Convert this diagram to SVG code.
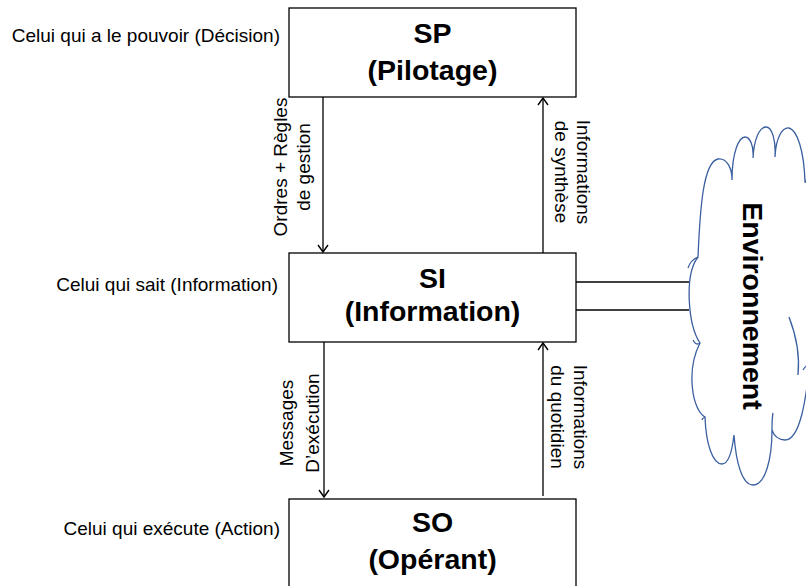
<svg xmlns="http://www.w3.org/2000/svg" width="806" height="586" viewBox="0 0 806 586">
<defs>
<marker id="arr" markerUnits="userSpaceOnUse" markerWidth="14" markerHeight="14" refX="0" refY="0" viewBox="-10 -7 12 14" orient="auto">
<path d="M -7 -5 L 0 0 L -7 5" fill="none" stroke="#000" stroke-width="1.4"/>
</marker>
<style>
.box{fill:#fff;stroke:#000;stroke-width:1.3}
.title{font-family:"Liberation Sans",Arial,sans-serif;font-weight:bold;font-size:28.5px;text-anchor:middle;fill:#000}
.side{font-family:"Liberation Sans",Arial,sans-serif;font-size:19px;text-anchor:end;fill:#000}
.vl{font-family:"Liberation Sans",Arial,sans-serif;font-size:19px;text-anchor:middle;fill:#000}
.ln{stroke:#000;stroke-width:1.3;fill:none}
.cloud{fill:#fff;stroke:#3A5FA0;stroke-width:1.3}
.cl{fill:none;stroke:#3A5FA0;stroke-width:1.3}
</style>
</defs>
<rect width="806" height="586" fill="#fff"/>

<g id="connectors">
<line class="ln" x1="323" y1="97" x2="323" y2="252" marker-end="url(#arr)"/>
<line class="ln" x1="543" y1="253" x2="543" y2="98" marker-end="url(#arr)"/>
<line class="ln" x1="324" y1="342" x2="324" y2="497" marker-end="url(#arr)"/>
<line class="ln" x1="543" y1="496" x2="543" y2="343" marker-end="url(#arr)"/>
<line class="ln" x1="576" y1="282" x2="689" y2="282"/>
<line class="ln" x1="576" y1="310" x2="689" y2="310"/>
<text class="vl" transform="translate(287,167) rotate(-90)">Ordres + Règles</text>
<text class="vl" transform="translate(310,167) rotate(-90)">de gestion</text>
<text class="vl" transform="translate(577,172) rotate(90)">Informations</text>
<text class="vl" transform="translate(555,172) rotate(90)">de synthèse</text>
<text class="vl" transform="translate(293,423) rotate(-90)">Messages</text>
<text class="vl" transform="translate(319,423) rotate(-90)">D’exécution</text>
<text class="vl" transform="translate(574,417) rotate(90)">Informations</text>
<text class="vl" transform="translate(551,417) rotate(90)">du quotidien</text>
</g>

<g id="SP">
<rect class="box" x="289" y="8" width="287" height="89"/>
<text class="title" x="432.5" y="43">SP</text>
<text class="title" x="432.5" y="80">(Pilotage)</text>
</g>
<g id="SI">
<rect class="box" x="289" y="253" width="287" height="89"/>
<text class="title" x="432.5" y="288">SI</text>
<text class="title" x="432.5" y="321">(Information)</text>
</g>
<g id="SO">
<rect class="box" x="289" y="499" width="287" height="100"/>
<text class="title" x="432.5" y="532">SO</text>
<text class="title" x="432.5" y="569">(Opérant)</text>
</g>

<g id="labels">
<text class="side" x="280" y="42">Celui qui a le pouvoir (Décision)</text>
<text class="side" x="278" y="291">Celui qui sait (Information)</text>
<text class="side" x="280" y="535">Celui qui exécute (Action)</text>
</g>

<g id="environnement">
<path class="cloud" d="M 700 343 C 688 325, 684 275, 698 257 C 700 210, 703 162, 718 159 C 727 158, 732 168, 732 180 C 732 152, 739 137, 745 137 C 750 137, 754 146, 753 158 C 754 138, 760 127, 766 127 C 772 127, 776 140, 775 157 C 776 136, 783 127, 789 128 C 797 130, 804 150, 805 182 L 830 182 L 830 360 L 810 362 C 806 400, 800 440, 785 440 C 779 440, 774 436, 772 430 C 772 460, 765 485, 753 485 C 742 485, 736 462, 734 435 C 732 452, 728 464, 722 464 C 713 464, 706 445, 705 417 C 692 410, 686 370, 700 343 Z"/>
<path class="cl" d="M 700 343 C 697 345, 695 344, 693 340"/>
<path class="cl" d="M 705 417 C 703 418, 702 419, 702 420"/>
<path class="cl" d="M 698 257 C 693 259, 690 262, 688 268"/>
<path class="cl" d="M 789 317 C 796 335, 800 355, 798 375"/>
<path class="cl" d="M 803 370 C 804 368, 806 366, 808 365"/>
<path class="cl" d="M 772 430 C 772 424, 772 418, 773 413"/>
<path class="cl" d="M 805 182 C 806 182, 806 180, 807 178"/>
<text class="title" transform="translate(743,306) rotate(90)">Environnement</text>
</g>
</svg>
